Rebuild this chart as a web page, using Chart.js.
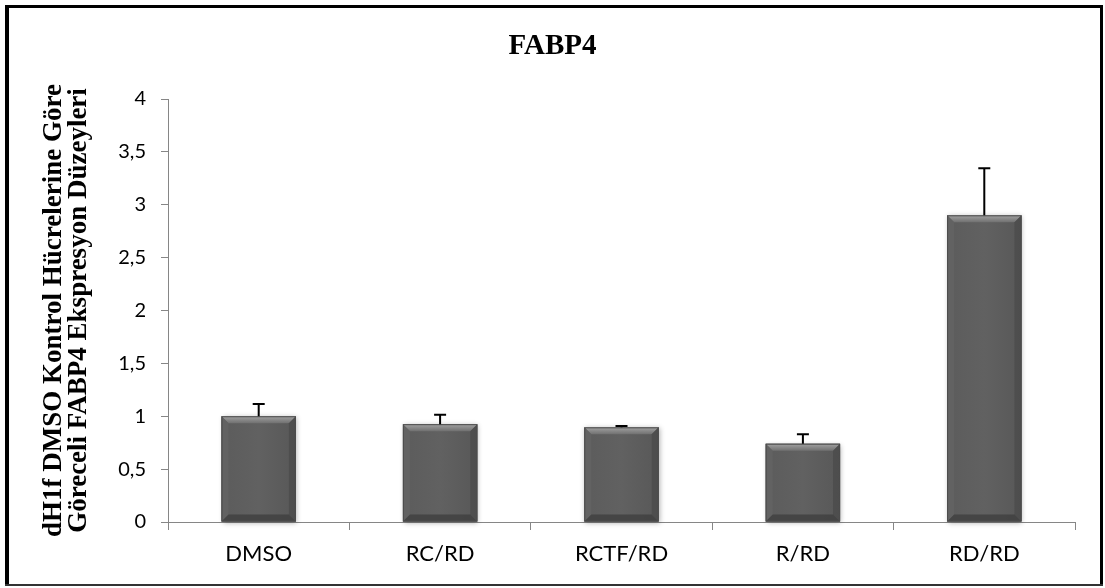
<!DOCTYPE html>
<html>
<head>
<meta charset="utf-8">
<script src="https://cdn.jsdelivr.net/npm/chart.js@4/dist/chart.umd.min.js"></script>
<style>
html,body{margin:0;padding:0;background:#fff;}
#wrap{width:1105px;height:588px;position:relative;}
</style>
</head>
<body>
<div id="wrap"><canvas id="c" width="1105" height="588"></canvas></div>
<script>
const categories = ["DMSO", "RC/RD", "RCTF/RD", "R/RD", "RD/RD"];
const values = [1.00, 0.925, 0.895, 0.74, 2.90];
const errors = [0.115, 0.09, 0.012, 0.09, 0.445];
const yTicks = [0, 0.5, 1, 1.5, 2, 2.5, 3, 3.5, 4];
const chartTitle = "FABP4";
const yTitle = ["dH1f DMSO Kontrol Hücrelerine Göre", "Göreceli FABP4 Ekspresyon Düzeyleri"];

const bevelPlugin = {
  id: 'bevel',
  afterDatasetsDraw(chart) {
    const ctx = chart.ctx;
    const meta = chart.getDatasetMeta(0);
    const ys = chart.scales.y;
    meta.data.forEach((bar, i) => {
      const w = bar.width, L = bar.x - w / 2, R = bar.x + w / 2, T = bar.y, B = bar.base;
      const b = 7;
      ctx.save();
      ctx.shadowColor = 'rgba(0,0,0,0.3)';
      ctx.shadowBlur = 5;
      ctx.shadowOffsetX = 1;
      ctx.shadowOffsetY = 1;
      ctx.fillStyle = '#5a5a5a';
      ctx.fillRect(L, T, w, B - T);
      ctx.restore();
      ctx.save();
      const g = ctx.createLinearGradient(L, 0, R, 0);
      g.addColorStop(0, '#5c5c5c');
      g.addColorStop(0.5, '#616161');
      g.addColorStop(1, '#585858');
      ctx.fillStyle = g;
      ctx.fillRect(L, T, w, B - T);
      const gt = ctx.createLinearGradient(0, T, 0, T + b);
      gt.addColorStop(0, '#a2a2a2');
      gt.addColorStop(1, '#707070');
      ctx.fillStyle = gt;
      ctx.beginPath();
      ctx.moveTo(L, T); ctx.lineTo(R, T); ctx.lineTo(R - b, T + b); ctx.lineTo(L + b, T + b); ctx.closePath();
      ctx.fill();
      ctx.fillStyle = 'rgba(100,100,100,0.8)';
      ctx.beginPath();
      ctx.moveTo(L, T); ctx.lineTo(L + b, T + b); ctx.lineTo(L + b, B - b); ctx.lineTo(L, B); ctx.closePath();
      ctx.fill();
      ctx.fillStyle = 'rgba(75,75,75,0.8)';
      ctx.beginPath();
      ctx.moveTo(R, T); ctx.lineTo(R - b, T + b); ctx.lineTo(R - b, B - b); ctx.lineTo(R, B); ctx.closePath();
      ctx.fill();
      ctx.fillStyle = 'rgba(65,65,65,0.85)';
      ctx.beginPath();
      ctx.moveTo(L, B); ctx.lineTo(L + b, B - b); ctx.lineTo(R - b, B - b); ctx.lineTo(R, B); ctx.closePath();
      ctx.fill();
      ctx.strokeStyle = '#4c4c4c';
      ctx.lineWidth = 1;
      ctx.strokeRect(L + 0.5, T + 0.5, w - 1, B - T - 1);
      const yTop = ys.getPixelForValue(values[i] + errors[i]);
      ctx.strokeStyle = '#000';
      ctx.lineWidth = 2;
      ctx.beginPath();
      ctx.moveTo(bar.x, T);
      ctx.lineTo(bar.x, yTop);
      ctx.moveTo(bar.x - 6, yTop);
      ctx.lineTo(bar.x + 6, yTop);
      ctx.stroke();
      ctx.restore();
    });
  },
  afterDraw(chart) {
    const ctx = chart.ctx;
    ctx.save();
    ctx.fillStyle = '#000';
    ctx.fillRect(5, 5, 4, 581);
    ctx.fillRect(5, 5, 1098, 3);
    ctx.fillRect(1100, 5, 3, 581);
    ctx.fillStyle = '#333';
    ctx.fillRect(5, 584, 1098, 2);
    ctx.restore();
  }
};

new Chart(document.getElementById('c'), {
  type: 'bar',
  data: {
    labels: categories,
    datasets: [{
      data: values,
      backgroundColor: 'rgba(0,0,0,0)',
      borderWidth: 0,
      barPercentage: 0.41,
      categoryPercentage: 1.0
    }]
  },
  options: {
    responsive: false,
    animation: false,
    events: [],
    layout: { padding: { left: 30, right: 30, top: 10, bottom: 0 } },
    plugins: {
      legend: { display: false },
      tooltip: { enabled: false },
      title: {
        display: true,
        text: chartTitle,
        color: '#000',
        font: { family: 'Liberation Serif', size: 29, weight: 'bold', lineHeight: 1.2 },
        padding: { top: 19.6, bottom: 34.6 }
      }
    },
    scales: {
      x: {
        grid: { display: true, drawOnChartArea: false, drawTicks: true, tickLength: 8, color: '#868686', offset: true },
        border: { display: true, color: '#868686', width: 1 },
        ticks: { color: '#000', font: { family: 'Lato', size: 22 }, padding: 11 },
        afterFit(s) { s.height = 66; }
      },
      y: {
        min: 0, max: 4,
        afterBuildTicks(s) { s.ticks = yTicks.map(v => ({ value: v })); },
        grid: { display: true, drawOnChartArea: false, drawTicks: true, tickLength: 7, color: '#868686' },
        border: { display: true, color: '#868686', width: 1 },
        ticks: {
          color: '#000', font: { family: 'Lato', size: 20 }, padding: 15,
          callback: v => String(v).replace('.', ',')
        },
        title: {
          display: true,
          text: yTitle,
          color: '#000',
          font: { family: 'Liberation Serif', size: 27, weight: 'bold', lineHeight: 0.95 },
          padding: { top: 11, bottom: 0 }
        },
        afterFit(s) { s.width = 138; }
      }
    }
  },
  plugins: [bevelPlugin]
});
</script>
</body>
</html>
